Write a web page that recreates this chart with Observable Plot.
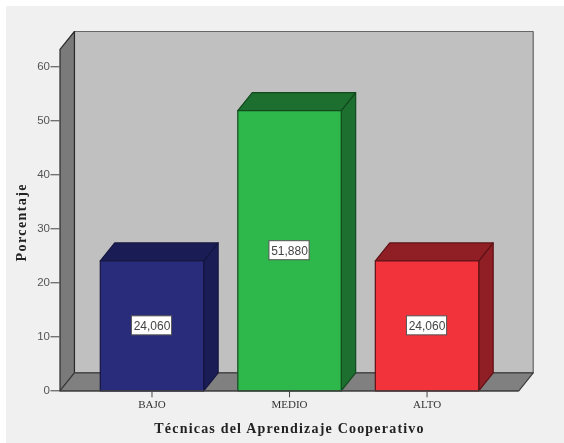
<!DOCTYPE html>
<html>
<head>
<meta charset="utf-8">
<script src="https://cdn.jsdelivr.net/npm/d3@7"></script>
<script src="https://cdn.jsdelivr.net/npm/@observablehq/plot@0.6"></script>
<style>
  html, body { margin: 0; background: #fff; }
  body { padding: 6px 0 0 6px; width: 558px; height: 437px; overflow: hidden; }
  svg { display: block; filter: blur(0.35px); }
</style>
</head>
<body>
<script>
const categories = ["BAJO", "MEDIO", "ALTO"];
const values = [24.06, 51.88, 24.06];
const valueLabels = ["24,060", "51,880", "24,060"];
const frontColors = ["#292c7a", "#2eb84c", "#f2333c"];
const darkColors = ["#1a1c55", "#1c6f2e", "#8f1f24"];
const edgeColors = ["#14163f", "#124a1e", "#5e1216"];
const yTicks = [0, 10, 20, 30, 40, 50, 60];
const xTitle = "Técnicas del Aprendizaje Cooperativo";
const yTitle = "Porcentaje";

// Chart geometry in data units
const xMin = -0.669, xFrontMax = 2.667;
const depthX = 0.105, depthY = 3.33, yFrontMax = 63.2;
const barHalf = 0.376, boxHalfX = 0.146, boxHalfY = 1.76;

const xr = xFrontMax + depthX, yr = yFrontMax + depthY;

const face = (pts, fill, stroke, strokeWidth = 1.2) =>
  Plot.line([...pts, pts[0]], {x: "0", y: "1", fill, stroke, strokeWidth, strokeLinejoin: "round"});

const wallMarks = [
  face([[xMin + depthX, depthY], [xr, depthY], [xr, yr], [xMin + depthX, yr]], "#c0c0c0", "#666"),
  face([[xMin, 0], [xMin + depthX, depthY], [xMin + depthX, yr], [xMin, yFrontMax]], "#7a7a7a", "#2a2a2a"),
  face([[xMin, 0], [xFrontMax, 0], [xr, depthY], [xMin + depthX, depthY]], "#808080", "#3c3c3c")
];

const barMarks = categories.flatMap((_, i) => {
  const a = i - barHalf, b = i + barHalf, v = values[i];
  return [
    face([[b, 0], [b + depthX, depthY], [b + depthX, v + depthY], [b, v]], darkColors[i], edgeColors[i]),
    face([[a, v], [b, v], [b + depthX, v + depthY], [a + depthX, v + depthY]], darkColors[i], edgeColors[i]),
    face([[a, 0], [b, 0], [b, v], [a, v]], frontColors[i], edgeColors[i])
  ];
});

const idx = d3.range(categories.length);

const chart = Plot.plot({
  width: 558,
  height: 437,
  marginLeft: 53.5,
  marginRight: 31.3,
  marginTop: 25,
  marginBottom: 52.7,
  style: {background: "#f0f0f0", overflow: "visible"},
  x: {domain: [xMin, xr]},
  y: {domain: [0, yr]},
  marks: [
    ...wallMarks,
    ...barMarks,
    Plot.ruleY([0], {x1: xMin, x2: xFrontMax, stroke: "#444", strokeWidth: 1.2}),
    Plot.rect(idx, {
      x1: i => i - boxHalfX, x2: i => i + boxHalfX,
      y1: i => values[i] / 2 - boxHalfY, y2: i => values[i] / 2 + boxHalfY,
      fill: "#fff", stroke: "#555", strokeWidth: 1, inset: 0
    }),
    Plot.text(idx, {
      x: i => i, y: i => values[i] / 2, text: i => valueLabels[i],
      fontFamily: "Liberation Sans", fontSize: 12, fill: "#444"
    }),
    Plot.axisY({
      ticks: yTicks, tickSize: 9, tickPadding: 1, label: null,
      fontFamily: "Liberation Sans", fontSize: 11.5, color: "#555", stroke: "#444"
    }),
    Plot.axisX({
      ticks: idx, tickFormat: i => categories[i], tickSize: 7, tickPadding: 2, label: null,
      fontFamily: "Liberation Serif", fontSize: 11, color: "#333", stroke: "#444"
    }),
    Plot.text([xTitle], {
      x: () => 1, frameAnchor: "bottom", dy: 42, textAnchor: "middle",
      fontFamily: "Liberation Serif", fontWeight: "bold", fontSize: 14, fill: "#222"
    }),
    Plot.text([yTitle], {
      y: () => 31.2, frameAnchor: "left", dx: -38.5, rotate: -90, textAnchor: "middle",
      fontFamily: "Liberation Serif", fontWeight: "bold", fontSize: 14, fill: "#222"
    })
  ]
});
d3.select(chart).selectAll("text").each(function () {
  const t = this.textContent;
  if (t === xTitle) this.style.letterSpacing = "1.2px";
  if (t === yTitle) this.style.letterSpacing = "1.4px";
});
document.body.appendChild(chart);
</script>
</body>
</html>
